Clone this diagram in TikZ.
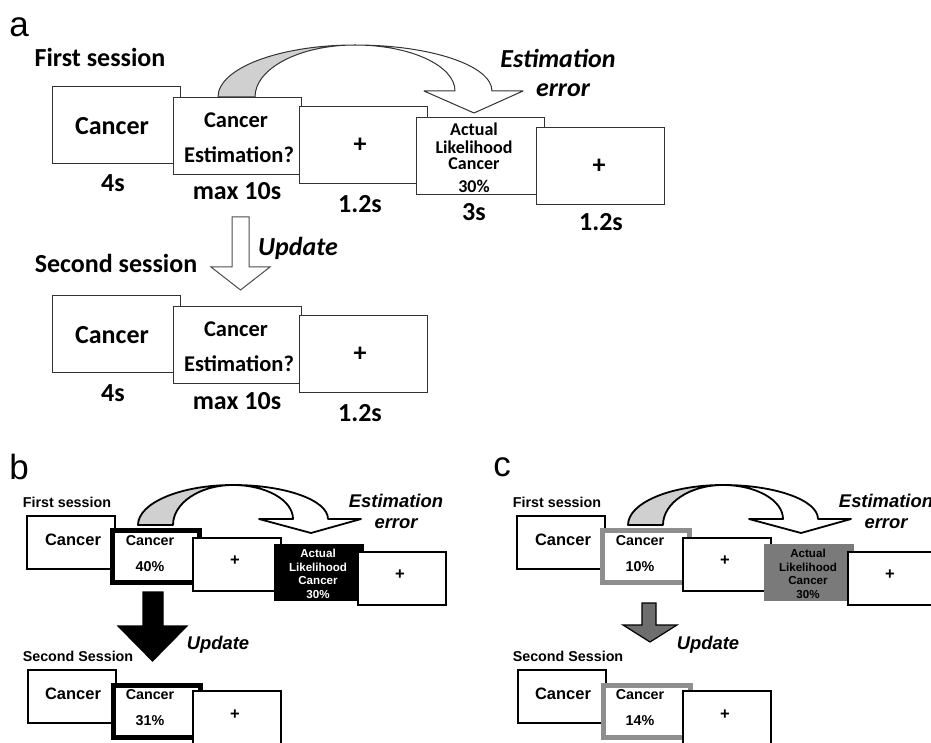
\documentclass[tikz,border=0pt]{standalone}
\usepackage{fontspec}
\setmainfont{Carlito}
\newfontfamily\arialfont{Liberation Sans}
\definecolor{ribbon}{HTML}{D0D0D0}
\definecolor{midgray}{HTML}{8E8E8E}
\definecolor{darkfill}{HTML}{7A7A7A}
\definecolor{arrowgray}{HTML}{6E6E6E}
\begin{document}
\begin{tikzpicture}[x=1pt,y=-1pt,
  % screens of the trial sequence
  boxa/.style={rectangle,draw=black!80,line width=1.3pt,fill=white,
    minimum width=128pt,minimum height=77pt,inner sep=0pt,anchor=north west},
  boxb/.style={rectangle,draw=black,line width=2.4pt,fill=white,
    minimum width=88pt,minimum height=53pt,inner sep=0pt,anchor=north west},
  estb/.style={boxb,line width=5pt,minimum width=87pt,minimum height=52pt},
  % text styles
  lab/.style={font=\arialfont\fontsize{35}{40}\selectfont,inner sep=0pt,text depth=0pt},
  ta/.style={font=\fontsize{26}{30}\selectfont\bfseries,inner sep=0pt,text depth=0pt},
  tam/.style={font=\fontsize{22.5}{26}\selectfont\bfseries,inner sep=0pt,text depth=0pt},
  tas/.style={font=\fontsize{18}{20}\selectfont\bfseries,inner sep=0pt,text depth=0pt},
  tai/.style={font=\fontsize{26}{30}\selectfont\bfseries\itshape,inner sep=0pt,text depth=0pt},
  tb/.style={font=\arialfont\fontsize{14.3}{17}\selectfont\bfseries,inner sep=0pt,text depth=0pt},
  tbl/.style={font=\arialfont\fontsize{16.5}{19}\selectfont\bfseries,inner sep=0pt,text depth=0pt},
  tbs/.style={font=\arialfont\fontsize{11.6}{13}\selectfont\bfseries,inner sep=0pt,text depth=0pt},
  tbi/.style={font=\arialfont\fontsize{18.4}{21}\selectfont\bfseries\itshape,inner sep=0pt,text depth=0pt},
  ribbonback/.style={fill=ribbon,draw=black!80,line width=1pt,line join=round},
  ribbonfront/.style={fill=white,draw=black!80,line width=1pt,line join=round},
]
\useasboundingbox (0,0) rectangle (931,743);
\clip (0,0) rectangle (931,743);

%% ---------------- panel a ----------------
\node[lab] (la) at (19,27) {a};
\node[ta] (fsa) at (100,57) {First session};

% curved estimation-error arrow
\draw[ribbonback] (218,97) arc[start angle=180,end angle=90,x radius=137pt,y radius=52pt]
  arc[start angle=90,end angle=180,x radius=100pt,y radius=52pt] -- cycle;
\draw[ribbonfront] (355,45) arc[start angle=90,end angle=0,x radius=137pt,y radius=46pt]
  -- (523,91) -- (474,113) -- (424,91) -- (455,91)
  arc[start angle=0,end angle=90,x radius=100pt,y radius=46pt] -- cycle;
\node[tai] (eea) at (558,58) {Estimation};
\node[tai] (eeb) at (563,90) {error};

% first session screens
\node[boxa] (a1) at (52,86) {};
\node[boxa] (a2) at (173,97) {};
\node[boxa] (a3) at (299,106) {};
\node[boxa] (a4) at (416,117) {};
\node[boxa] (a5) at (536,127) {};
\node[ta]  at (112,126) {Cancer};
\node[tam] at (236,120) {Cancer};
\node[tam] at (239,155) {Estimation?};
\node[ta]  at (360,145) {+};
\node[tas] at (474,129) {Actual};
\node[tas] at (474,147) {Likelihood};
\node[tas] at (474,164) {Cancer};
\node[tas] at (474,186) {30\%};
\node[ta]  at (599,166) {+};
\node[ta] at (113,183) {4s};
\node[ta] at (237,191) {max 10s};
\node[ta] at (360,204) {1.2s};
\node[ta] at (474,212) {3s};
\node[ta] at (601,222) {1.2s};

% update arrow
\draw[fill=white,draw=black!70,line width=1pt,line join=miter]
  (232,217) -- (249,217) -- (249,267) -- (270,267) -- (240.5,290)
  -- (211,267) -- (232,267) -- cycle;
\node[tai] (upa) at (298,246) {Update};
\node[ta] (ssa) at (116,263) {Second session};

% second session screens
\node[boxa] (a6) at (52,295) {};
\node[boxa] (a7) at (173,306) {};
\node[boxa] (a8) at (299,315) {};
\node[ta]  at (112,335) {Cancer};
\node[tam] at (236,329) {Cancer};
\node[tam] at (239,364) {Estimation?};
\node[ta]  at (360,354) {+};
\node[ta] at (113,393) {4s};
\node[ta] at (237,401) {max 10s};
\node[ta] at (360,413) {1.2s};

%% ---------------- panels b and c ----------------
\foreach \dx/\pn/\lx/\est/\upd/\framecol/\actfill/\acttext/\updfill/\shl/\shr/\sht/\shb/\hl/\hr/\tipy in
  {0/b/19/40\%/31\%/black/black/white/black/143/163/592/626/118/187/661,
   490/c/12/10\%/14\%/midgray/darkfill/black/arrowgray/152/166/603/625/133/187/642}{
  \begin{scope}[xshift=\dx pt]
  \node[lab] (l\pn) at (\lx,467) {\pn};
  \node[tb] (fs\pn) at (67,502) {First session};

  % curved estimation-error arrow
  \draw[ribbonback,line width=1.8pt,draw=black] (138,525)
    arc[start angle=180,end angle=90,x radius=95pt,y radius=40pt]
    arc[start angle=90,end angle=180,x radius=60pt,y radius=40pt] -- cycle;
  \draw[ribbonfront,line width=1.8pt,draw=black] (233,485)
    arc[start angle=90,end angle=0,x radius=95pt,y radius=34pt]
    -- (361,519) -- (311,533) -- (259,519) -- (293,519)
    arc[start angle=0,end angle=90,x radius=60pt,y radius=34pt] -- cycle;
  \node[tbi] (ee\pn a) at (396,501) {Estimation};
  \node[tbi] (ee\pn b) at (396,524) {error};

  % first session screens
  \node[boxb] (\pn 1) at (26,515) {};
  \node[estb,draw=\framecol] (\pn 2) at (109.5,527.5) {};
  \node[boxb] (\pn 3) at (192,537) {};
  \node[boxb,fill=\actfill,draw=\actfill,minimum height=55pt] (\pn 4) at (274,544) {};
  \node[boxb] (\pn 5) at (357,551) {};
  \node[tbl] at (73,540) {Cancer};
  \node[tb] at (150,541) {Cancer};
  \node[tb] at (150,567) {\est};
  \node[tbl] at (235,561) {+};
  \node[tbs,text=\acttext] at (318,553) {Actual};
  \node[tbs,text=\acttext] at (318,567) {Likelihood};
  \node[tbs,text=\acttext] at (318,580) {Cancer};
  \node[tbs,text=\acttext] at (318,594) {30\%};
  \node[tbl] at (400,575) {+};

  % update arrow
  \draw[fill=\updfill,draw=black,line width=1.2pt]
    (\shl,\sht) -- (\shr,\sht) -- (\shr,\shb) -- (\hr,\shb)
    -- ({(\hl+\hr)/2},\tipy) -- (\hl,\shb) -- (\shl,\shb) -- cycle;
  \node[tbi] (up\pn) at (218,643) {Update};
  \node[tb] (ss\pn) at (78,656) {Second Session};

  % second session screens
  \node[boxb] (\pn 6) at (27,669) {};
  \node[estb,draw=\framecol] (\pn 7) at (110.5,682.5) {};
  \node[boxb,minimum height=60pt] (\pn 8) at (192,690) {};
  \node[tbl] at (73,694) {Cancer};
  \node[tb] at (150,695) {Cancer};
  \node[tb] at (150,721) {\upd};
  \node[tbl] at (235,715) {+};
  \end{scope}
}
\end{tikzpicture}
\end{document}
